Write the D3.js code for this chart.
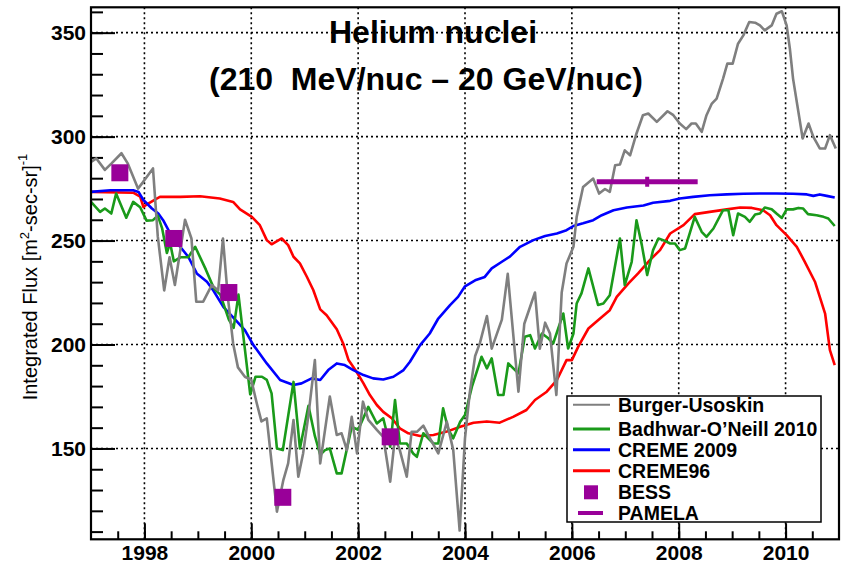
<!DOCTYPE html>
<meta charset="utf-8">
<script src="https://cdn.jsdelivr.net/npm/d3@7"></script>
<style>
  body { margin: 0; background: #fff; }
  text { font-family: "Liberation Sans", Arial, sans-serif; }
</style>
<svg id="chart" width="843" height="567"></svg>
<script>

// Burger-Usoskin model [year, flux]
const burgerUsoskin = [
  [1997.01,288],[1997.10,289.5],[1997.26,284],[1997.38,287],[1997.57,292],[1997.69,287],[1997.88,275],[1997.97,278],
  [1998.16,284.7],[1998.25,252],[1998.37,226],[1998.47,242],[1998.57,228.6],[1998.76,260],[1998.88,251],[1998.97,220.6],
  [1999.10,220.6],[1999.26,228.6],[1999.38,226],[1999.47,251],[1999.56,223],[1999.66,200.5],[1999.75,189],[1999.88,184.5],
  [2000.00,183],[2000.10,172],[2000.19,163],[2000.29,164.5],[2000.48,119.6],[2000.60,134.8],[2000.69,142.8],[2000.79,163.7],
  [2000.88,136.4],[2000.97,147.6],[2001.07,166],[2001.19,192.5],[2001.29,142.8],[2001.47,175],[2001.60,156.5],[2001.69,157.3],
  [2001.79,149.2],[2001.88,165.2],[2001.98,147.6],[2002.09,172.5],[2002.19,163.7],[2002.35,158.9],[2002.47,155.6],[2002.60,134],
  [2002.69,155.6],[2002.78,149.2],[2002.91,136.4],[2003.00,158],[2003.10,158],[2003.22,161],[2003.31,156.5],[2003.50,147.6],
  [2003.66,162.8],[2003.78,149.2],[2003.90,110.5],[2004.00,155],[2004.09,177],[2004.19,194.5],[2004.28,200.8],[2004.41,213.7],
  [2004.50,198],[2004.69,212],[2004.80,234],[2005.00,177.3],[2005.11,210],[2005.31,225],[2005.40,198],[2005.50,210.5],
  [2005.59,205.3],[2005.71,175.7],[2005.81,225],[2005.90,239],[2006.03,247],[2006.09,261.4],[2006.21,275.8],[2006.40,279.8],
  [2006.51,272.6],[2006.62,274.8],[2006.71,273.4],[2006.81,286.2],[2006.90,286.6],[2006.99,293.4],[2007.09,291],[2007.21,301.5],
  [2007.33,310.3],[2007.43,311.1],[2007.59,307.1],[2007.79,312.2],[2007.90,310.3],[2008.02,306.3],[2008.14,303.6],[2008.24,306.3],
  [2008.32,306.3],[2008.43,302.3],[2008.52,310.3],[2008.62,315.9],[2008.71,318.3],[2008.83,327.9],[2008.91,335.1],[2009.01,335.1],
  [2009.11,344.7],[2009.21,348.7],[2009.32,355.1],[2009.43,354.8],[2009.52,353.5],[2009.61,351.1],[2009.74,353.5],[2009.83,359.1],
  [2009.93,360.3],[2010.02,353.5],[2010.08,342.4],[2010.14,327.9],[2010.22,315.1],[2010.32,299.1],[2010.43,306.3],[2010.52,299.9],
  [2010.64,294.3],[2010.74,294.3],[2010.83,300.7],[2010.94,294.3]
];

// Badhwar-O'Neill 2010
const badhwarONeill = [
  [1997.00,268.6],[1997.17,263.8],[1997.26,265.4],[1997.38,263],[1997.47,272.6],[1997.66,261],[1997.79,268.6],[1997.92,266],
  [1998.04,259.6],[1998.16,259.8],[1998.25,262],[1998.33,256],[1998.42,244],[1998.48,249],[1998.55,240],[1998.68,242],
  [1998.82,242],[1998.95,247],[1999.15,236],[1999.30,227],[1999.42,224],[1999.58,212],[1999.67,208],[1999.76,224],
  [1999.98,176],[2000.08,184.5],[2000.20,184.5],[2000.29,183],[2000.38,176.5],[2000.48,150],[2000.59,149.2],[2000.79,182],
  [2000.91,150],[2001.07,170.5],[2001.19,156],[2001.29,147],[2001.38,149.2],[2001.47,150],[2001.60,138],[2001.69,138],
  [2001.88,160.4],[2002.00,159],[2002.19,170],[2002.35,162],[2002.47,164.5],[2002.60,150.8],[2002.69,173.3],[2002.78,152.4],
  [2002.91,152.4],[2003.03,147.6],[2003.10,146],[2003.22,157.3],[2003.41,152.4],[2003.50,152.4],[2003.59,169.3],[2003.69,158.9],
  [2003.78,154.9],[2003.91,162.8],[2004.00,166.1],[2004.13,179.7],[2004.31,194.1],[2004.41,188.5],[2004.50,193.3],[2004.62,175.7],
  [2004.72,175.7],[2004.81,190.9],[2005.00,186.1],[2005.12,203.7],[2005.22,204.5],[2005.31,198.1],[2005.44,205.3],[2005.56,203],
  [2005.65,200.5],[2005.84,214.9],[2005.93,198.1],[2006.03,205.3],[2006.09,219.7],[2006.18,224.6],[2006.31,236.6],[2006.49,219],
  [2006.59,219.7],[2006.71,223.7],[2006.90,251],[2006.99,228.6],[2007.12,239.8],[2007.21,259.8],[2007.31,247.8],[2007.41,233.4],
  [2007.52,245.4],[2007.62,251],[2007.71,250.2],[2007.84,248.6],[2007.93,248.6],[2008.02,245.4],[2008.12,246.2],[2008.30,261.4],
  [2008.43,254.2],[2008.52,251.8],[2008.65,255.8],[2008.83,264.6],[2008.93,264.6],[2009.02,252.6],[2009.11,263],[2009.24,261.4],
  [2009.33,259],[2009.43,262.5],[2009.52,263],[2009.61,265.9],[2009.74,265.1],[2009.83,263],[2009.93,260.9],[2010.02,265],
  [2010.14,265],[2010.24,265.7],[2010.33,265.4],[2010.42,262.7],[2010.58,262.2],[2010.71,261.4],[2010.80,260.6],[2010.92,257]
];

// CREME 2009
const creme2009 = [
  [1997.00,273.4],[1997.36,274.2],[1997.79,274.2],[1997.89,273.4],[1997.98,269.5],[1998.14,265.4],[1998.26,263],[1998.35,259.8],
  [1998.45,255],[1998.54,250.2],[1998.67,247],[1998.82,242.2],[1998.98,234.2],[1999.17,230.2],[1999.29,226],[1999.48,218],
  [1999.66,213],[1999.88,206.9],[2000.04,199.7],[2000.29,190.9],[2000.54,182.9],[2000.79,180.5],[2000.94,181.3],[2001.13,183.7],
  [2001.29,182.9],[2001.44,187.7],[2001.60,190.9],[2001.75,190.1],[2001.91,187.7],[2002.10,185.3],[2002.28,183.7],[2002.47,183.2],
  [2002.66,184.5],[2002.85,187.7],[2002.97,191.7],[2003.16,199.7],[2003.34,205.3],[2003.50,212.5],[2003.72,218.9],[2003.87,222.9],
  [2004.00,228],[2004.19,230.9],[2004.37,232.5],[2004.50,236.6],[2004.69,239.8],[2004.84,242.3],[2005.03,247],[2005.28,250.2],
  [2005.50,252.2],[2005.72,253.4],[2005.90,255],[2006.03,257],[2006.21,258.3],[2006.40,259.8],[2006.56,262.2],[2006.78,264.6],
  [2007.03,265.9],[2007.34,266.9],[2007.52,268.2],[2007.84,269.1],[2008.02,270.2],[2008.27,271],[2008.58,271.8],[2008.90,272.2],
  [2009.21,272.5],[2009.52,272.6],[2009.83,272.6],[2010.14,272.5],[2010.40,272.2],[2010.52,271.5],[2010.64,272.2],[2010.77,271.5],
  [2010.92,270.7]
];

// CREME96
const creme96 = [
  [1997.00,273.4],[1997.79,273],[1997.92,271.1],[1997.98,266.2],[1998.07,267.8],[1998.23,270.2],[1998.29,271],[1998.67,271],
  [1999.04,271.3],[1999.41,270.2],[1999.66,268.6],[1999.79,265],[2000.01,261.4],[2000.16,257.4],[2000.29,250.2],[2000.38,248.2],
  [2000.57,251],[2000.69,247.8],[2000.79,242.2],[2000.91,239],[2001.04,232.6],[2001.16,226.2],[2001.29,216.9],[2001.41,214.1],
  [2001.60,207.3],[2001.72,200.5],[2001.82,192.5],[2001.97,186.9],[2002.10,181.3],[2002.22,175.7],[2002.35,170.9],[2002.47,167.6],
  [2002.63,164.5],[2002.78,159.7],[2002.94,157.3],[2003.16,156],[2003.41,156.5],[2003.66,158.1],[2003.91,160.4],[2004.16,162.4],
  [2004.41,163],[2004.65,162.4],[2004.90,165.2],[2005.15,168.5],[2005.31,173.3],[2005.53,177.3],[2005.72,182.9],[2005.90,192.5],
  [2006.00,192.5],[2006.12,199],[2006.31,207.7],[2006.49,211.7],[2006.71,216.5],[2006.84,222.9],[2007.06,229.4],[2007.24,234.2],
  [2007.46,240.6],[2007.65,245.4],[2007.84,253.4],[2008.09,257.4],[2008.30,262.7],[2008.58,263.8],[2008.90,265],[2009.15,265.9],
  [2009.37,265.7],[2009.58,264.6],[2009.71,262.2],[2009.83,257.4],[2010.02,252.6],[2010.21,247],[2010.36,239.8],[2010.55,230.2],
  [2010.74,214.9],[2010.83,197.3],[2010.92,190.1]
];

// BESS balloon flights
const bess = [[1997.54,282.6],[1998.55,251],[1999.58,225],[2000.59,126.5],[2002.60,155.6]];

// PAMELA: centre year, half-width in years, flux
const pamela = [[2007.41, 0.945, 278.3]];

const xMajor = [1998, 2000, 2002, 2004, 2006, 2008, 2010];
const xMinor = d3.range(1997.5, 2011, 0.5);
const yMajor = [150, 200, 250, 300, 350];
const yMinor = d3.range(110, 361, 10);

const legendItems = [
  {label: "Burger-Usoskin", type: "line", color: "#7f7f7f", w: 2},
  {label: "Badhwar-O\u2019Neill 2010", type: "line", color: "#1a9a1a", w: 3},
  {label: "CREME 2009", type: "line", color: "#0000ff", w: 3},
  {label: "CREME96", type: "line", color: "#ff0000", w: 3},
  {label: "BESS", type: "square", color: "#990099"},
  {label: "PAMELA", type: "bar", color: "#990099"}
];

const svg = d3.select("#chart");
const pLeft = 91, pRight = 839, pTop = 7.3, pBottom = 539.3;

const x = d3.scaleLinear().domain([1997, 2011]).range([pLeft, pRight]);
const y = d3.scaleLinear().domain([106.3, 362.2]).range([pBottom, pTop]);

svg.append("defs").append("clipPath").attr("id", "clip")
  .append("rect").attr("x", pLeft).attr("y", pTop).attr("width", pRight - pLeft).attr("height", pBottom - pTop);

// dotted grid
const grid = svg.append("g").attr("stroke", "#000").attr("stroke-width", 1.6).attr("stroke-dasharray", "2,3");
grid.selectAll(".gx").data(xMajor).join("line")
  .attr("x1", d => x(d)).attr("x2", d => x(d)).attr("y1", pTop).attr("y2", pBottom);
grid.selectAll(".gy").data(yMajor).join("line")
  .attr("y1", d => y(d)).attr("y2", d => y(d)).attr("x1", pLeft).attr("x2", pRight);

// axes
function styleAxis(g) {
  g.select(".domain").remove();
  g.selectAll(".tick line").attr("stroke", "#000").attr("stroke-width", 2);
  g.selectAll(".tick text").attr("font-size", 21).attr("font-weight", "bold").attr("fill", "#000")
    .style("font-family", '"Liberation Sans", Arial, sans-serif');
}
svg.append("g").attr("transform", `translate(0,${pBottom})`)
  .call(d3.axisBottom(x).tickValues(xMinor).tickSize(-8).tickFormat(""))
  .call(styleAxis);
svg.append("g").attr("transform", `translate(0,${pBottom})`)
  .call(d3.axisBottom(x).tickValues(xMajor).tickSize(-16).tickPadding(6).tickFormat(d3.format("d")))
  .call(styleAxis);
svg.append("g").attr("transform", `translate(${pLeft},0)`)
  .call(d3.axisLeft(y).tickValues(yMinor).tickSize(-12).tickFormat(""))
  .call(styleAxis);
svg.append("g").attr("transform", `translate(${pLeft},0)`)
  .call(d3.axisLeft(y).tickValues(yMajor).tickSize(-24).tickPadding(5).tickFormat(d3.format("d")))
  .call(styleAxis);

// series
const line = d3.line().x(d => x(d[0])).y(d => y(d[1]));
const plot = svg.append("g").attr("clip-path", "url(#clip)");
[[creme96, "#ff0000"], [creme2009, "#0000ff"], [badhwarONeill, "#1a9a1a"], [burgerUsoskin, "#7f7f7f"]]
  .forEach(([data, color]) => {
    plot.append("path").datum(data)
      .attr("fill", "none").attr("stroke", color).attr("stroke-width", 2.6)
      .attr("stroke-linejoin", "round").attr("d", line);
  });

const sq = 17;
plot.selectAll(".bess").data(bess).join("rect")
  .attr("x", d => x(d[0]) - sq / 2).attr("y", d => y(d[1]) - sq / 2)
  .attr("width", sq).attr("height", sq).attr("fill", "#990099");

pamela.forEach(d => {
  plot.append("line").attr("x1", x(d[0] - d[1])).attr("x2", x(d[0] + d[1]))
    .attr("y1", y(d[2])).attr("y2", y(d[2])).attr("stroke", "#990099").attr("stroke-width", 5);
  plot.append("line").attr("x1", x(d[0])).attr("x2", x(d[0]))
    .attr("y1", y(d[2]) - 5).attr("y2", y(d[2]) + 5).attr("stroke", "#990099").attr("stroke-width", 4);
});

// frame
svg.append("rect").attr("x", pLeft).attr("y", pTop).attr("width", pRight - pLeft).attr("height", pBottom - pTop)
  .attr("fill", "none").attr("stroke", "#000").attr("stroke-width", 2.2);

// title
svg.append("text").attr("x", 433).attr("y", 43).attr("text-anchor", "middle")
  .attr("font-size", 32).attr("font-weight", "bold").text("Helium nuclei");
svg.append("text").attr("x", 426).attr("y", 90).attr("text-anchor", "middle")
  .attr("font-size", 32).attr("font-weight", "bold").style("white-space", "pre")
  .text("(210  MeV/nuc \u2013 20 GeV/nuc)");

// y title
const yt = svg.append("text").attr("transform", "translate(37,277) rotate(-90)")
  .attr("text-anchor", "middle").attr("font-size", 20);
yt.append("tspan").text("Integrated Flux [m");
yt.append("tspan").attr("font-size", 13).attr("dy", -8).text("2");
yt.append("tspan").attr("dy", 8).text("-sec-sr]");
yt.append("tspan").attr("font-size", 13).attr("dy", -10).text("-1");

// legend
const lg = svg.append("g");
lg.append("rect").attr("x", 567).attr("y", 396).attr("width", 254).attr("height", 126)
  .attr("fill", "#fff").attr("stroke", "#000").attr("stroke-width", 1.5);
const baselines = [411.7, 436, 456.7, 477.7, 499.3, 520];
legendItems.forEach((it, i) => {
  const by = baselines[i], cy = by - 7;
  if (it.type === "line") {
    lg.append("line").attr("x1", 573).attr("x2", 610).attr("y1", cy).attr("y2", cy)
      .attr("stroke", it.color).attr("stroke-width", it.w);
  } else if (it.type === "square") {
    lg.append("rect").attr("x", 584).attr("y", cy - 7).attr("width", 14).attr("height", 14).attr("fill", it.color);
  } else {
    lg.append("line").attr("x1", 578).attr("x2", 603).attr("y1", cy).attr("y2", cy)
      .attr("stroke", it.color).attr("stroke-width", 4);
  }
  lg.append("text").attr("x", 618).attr("y", by).attr("font-size", 19.5).attr("font-weight", "bold")
    .text(it.label);
});
</script>
